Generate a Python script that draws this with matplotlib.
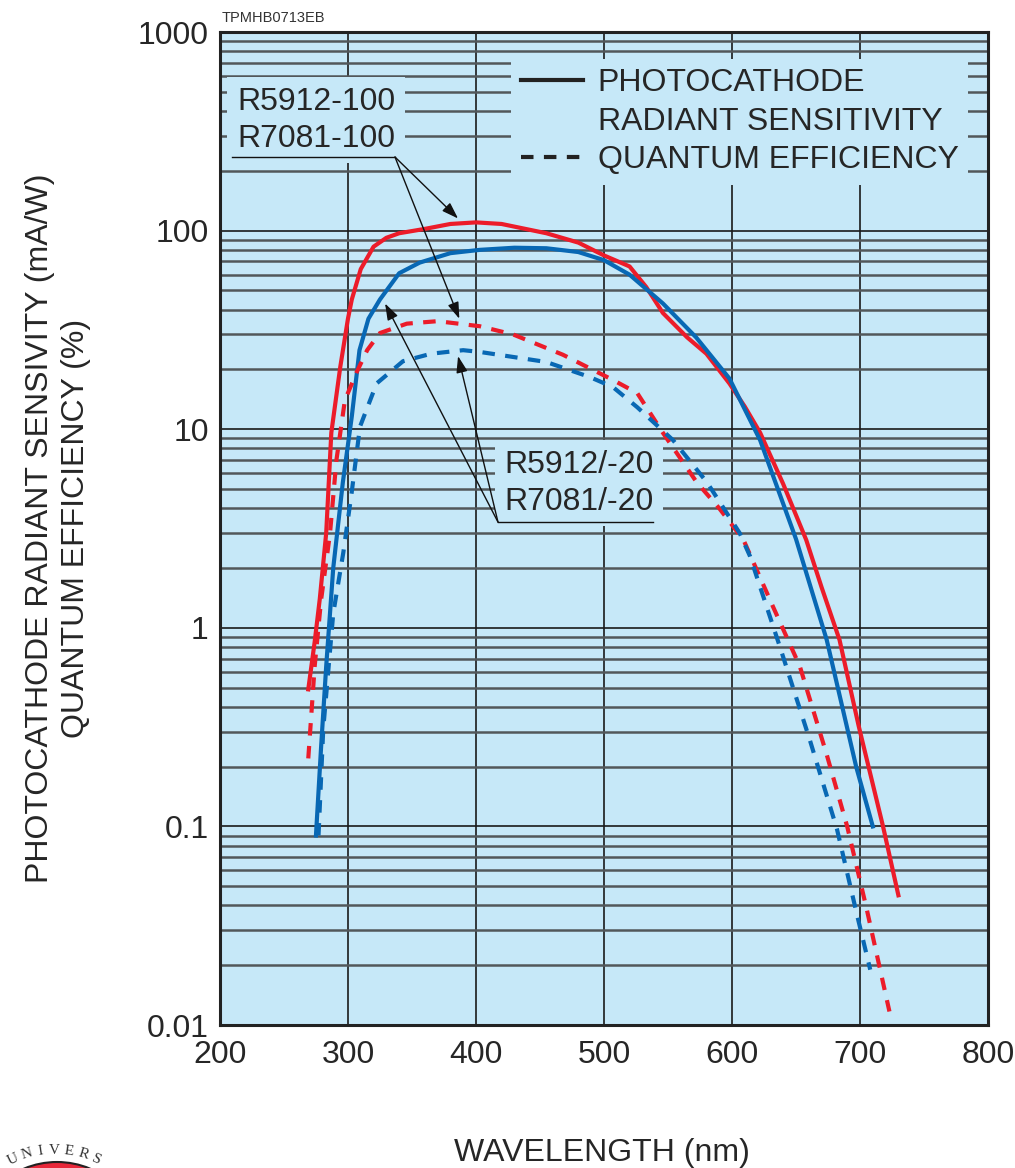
import numpy as np
import matplotlib.pyplot as plt
from matplotlib.lines import Line2D
from matplotlib.patches import Circle
from matplotlib.ticker import LogLocator, NullFormatter

plt.rcParams['font.family'] = ['Liberation Sans', 'DejaVu Sans']

# R5912-100 / R7081-100 radiant sensitivity (mA/W)
wl_red_sens = [269, 274, 278, 283, 287, 294, 300, 303, 310, 320, 330, 340, 360, 380, 400,
               420, 455, 480, 500, 520, 533, 546, 565, 580, 598, 610, 622, 640, 658, 670,
               684, 699, 718, 730]
red_sens = [0.49, 0.85, 1.4, 3.0, 9.6, 20.6, 36, 45, 64, 83, 92, 97, 102, 108, 110,
            108, 97, 87, 75, 66, 52, 38.5, 29, 24, 17, 13, 9.6, 5.3, 2.77, 1.6,
            0.87, 0.32, 0.1, 0.045]

# R5912 / R7081 (-20) radiant sensitivity (mA/W)
wl_blue_sens = [275, 279, 283, 288.5, 296, 303, 309, 316, 325, 340, 356, 380, 403, 430,
                455, 480, 500, 520, 546, 572, 598, 622, 650, 674, 697, 710]
blue_sens = [0.09, 0.25, 0.64, 2.0, 5.4, 11.6, 25, 36, 45, 61, 69, 77, 80, 82,
             81.5, 78, 71, 60, 43, 29, 18, 8.8, 2.8, 0.87, 0.2, 0.1]

# quantum efficiency (%)
wl_red_qe = [269, 274, 279, 286, 291, 297.6, 307, 315, 325, 346, 370, 403, 429, 468, 507,
             526, 546, 572.5, 590, 609, 632, 653, 674, 690, 705, 723]
red_qe = [0.22, 0.64, 1.38, 3.0, 7.0, 14, 19.5, 25, 30.5, 34, 35, 33, 30, 23.7, 17.7,
          15.2, 9.6, 5.4, 4.0, 2.77, 1.28, 0.64, 0.23, 0.1, 0.039, 0.0117]

wl_blue_qe = [277, 280.7, 288.5, 296.4, 302.9, 309.4, 322.4, 343, 365, 390, 403, 455, 489,
              507, 526, 554, 580.5, 606, 614, 637.5, 661, 682, 697.4, 708]
blue_qe = [0.09, 0.31, 1.18, 2.4, 4.8, 10.3, 17, 22, 24, 25, 24.5, 21.8, 18.3,
           16.3, 12.9, 8.8, 5.4, 3.0, 2.3, 0.8, 0.27, 0.097, 0.0365, 0.019]

x_ticks = [200, 300, 400, 500, 600, 700, 800]
x_tick_labels = ['200', '300', '400', '500', '600', '700', '800']
y_ticks = [0.01, 0.1, 1, 10, 100, 1000]
y_tick_labels = ['0.01', '0.1', '1', '10', '100', '1000']

BG = '#c6e8f8'
RED = '#ec1c2a'
BLUE = '#0868b4'
TXT = '#262626'
FS = 23

fig = plt.figure(figsize=(10.15, 11.68), dpi=100)

# partial logo at the lower left corner
lg = fig.add_axes([0, 0, 1, 1], zorder=-1)
lg.set_xlim(0, 1015)
lg.set_ylim(1168, 0)
lg.axis('off')
lg.add_patch(Circle((57, 1248), 86, fc='#e8283a', ec='#222222', lw=1.5))
for i, ch in enumerate('UNIVERS'):
    a = np.deg2rad(-26 + i * 8.6)
    lg.text(55 + 96 * np.sin(a), 1246 - 96 * np.cos(a), ch, rotation=-np.rad2deg(a),
            ha='center', va='center', fontsize=11, family='Liberation Serif', color='#333333')

ax = fig.add_axes([0.2167, 0.1224, 0.7567, 0.8502])
ax.set_facecolor(BG)
ax.set_yscale('log')
ax.set_xlim(200, 800)
ax.set_ylim(0.01, 1000)
ax.set_xticks(x_ticks)
ax.set_xticklabels(x_tick_labels)
ax.set_yticks(y_ticks)
ax.set_yticklabels(y_tick_labels)
ax.yaxis.set_minor_locator(LogLocator(base=10, subs=np.arange(2, 10)))
ax.yaxis.set_minor_formatter(NullFormatter())
ax.tick_params(which='both', length=0, labelsize=FS, colors=TXT)
ax.tick_params(axis='x', pad=11)
ax.tick_params(axis='y', pad=8)
ax.set_axisbelow(True)
ax.grid(which='major', axis='both', color='#1a1a1a', lw=1.2)
ax.grid(which='minor', axis='y', color='#52575a', lw=1.8)
for s in ax.spines.values():
    s.set_linewidth(2.2)
    s.set_color('#222222')

dash = (0, (3, 2.5))
ax.plot(wl_red_sens, red_sens, color=RED, lw=3, zorder=3)
ax.plot(wl_blue_sens, blue_sens, color=BLUE, lw=3, zorder=3)
ax.plot(wl_red_qe, red_qe, color=RED, lw=3, ls=dash, zorder=3)
ax.plot(wl_blue_qe, blue_qe, color=BLUE, lw=3, ls=dash, zorder=3)

# legend
handles = [Line2D([], [], color='#222222', lw=3),
           Line2D([], [], color='none'),
           Line2D([], [], color='#222222', lw=3, ls=dash)]
labels = ['PHOTOCATHODE', 'RADIANT SENSITIVITY', 'QUANTUM EFFICIENCY']
ax.legend(handles, labels, loc='upper right', bbox_to_anchor=(0.974, 0.973), fontsize=FS,
          frameon=True, facecolor=BG, edgecolor='none', framealpha=1, fancybox=False,
          handlelength=1.95, handletextpad=0.45, labelspacing=0.26, borderpad=0.3,
          borderaxespad=0, labelcolor=TXT).set_zorder(6)


def tip(x, xs, ys, k):
    return x, k * 10 ** np.interp(x, xs, np.log10(ys))


arrow = dict(arrowstyle='-|>,head_length=0.5,head_width=0.17', color='#111111', lw=1,
             mutation_scale=20, shrinkA=0, shrinkB=0)
box = dict(boxstyle='square,pad=0.3', fc=BG, ec='none')

ax.text(0.0221, 0.9110, 'R5912-100\nR7081-100', transform=ax.transAxes, fontsize=FS,
        color=TXT, ha='left', va='center', linespacing=1.3, bbox=box, zorder=5)
ax.plot([0.0156, 0.2279], [0.8741, 0.8741], transform=ax.transAxes, color='#111111', lw=1,
        zorder=6)
for t in [tip(386, wl_red_sens, red_sens, 1.06), tip(387, wl_red_qe, red_qe, 1.06)]:
    ax.annotate('', xy=t, xytext=(0.2279, 0.8741), textcoords='axes fraction',
                arrowprops=arrow, zorder=6)

ax.text(0.370, 0.5455, 'R5912/-20\nR7081/-20', transform=ax.transAxes, fontsize=FS,
        color=TXT, ha='left', va='center', linespacing=1.3, bbox=box, zorder=5)
ax.plot([0.362, 0.5638], [0.5065, 0.5065], transform=ax.transAxes, color='#111111', lw=1,
        zorder=6)
for t in [tip(329, wl_blue_sens, blue_sens, 0.88), tip(386, wl_blue_qe, blue_qe, 0.94)]:
    ax.annotate('', xy=t, xytext=(0.362, 0.5065), textcoords='axes fraction',
                arrowprops=arrow, zorder=6)

fig.text(222 / 1015, 1 - 18 / 1168, 'TPMHB0713EB', fontsize=10.5, color='#333333',
         ha='left', va='center')
fig.text(58 / 1015, 1 - 528 / 1168,
         'PHOTOCATHODE RADIANT SENSIVITY (mA/W)\nQUANTUM EFFICIENCY (%)',
         rotation=90, ha='center', va='center', multialignment='center', fontsize=FS,
         color=TXT, linespacing=1.25)
fig.text(602 / 1015, 1 - 1153 / 1168, 'WAVELENGTH (nm)', ha='center', va='center',
         fontsize=FS, color=TXT)

fig.savefig('out.png', dpi=100)
